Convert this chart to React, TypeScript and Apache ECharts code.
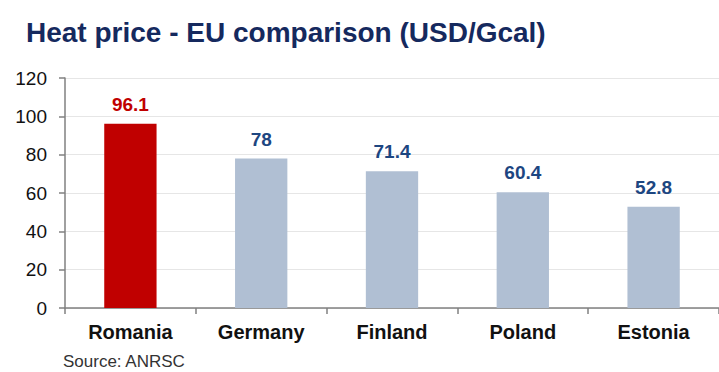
import React, { useEffect, useRef } from "react";
import * as echarts from "echarts";

const categories = ["Romania", "Germany", "Finland", "Poland", "Estonia"];
const values = [96.1, 78, 71.4, 60.4, 52.8];
const highlightIndex = 0;
const yTicks = { min: 0, max: 120, interval: 20 };

export default function App() {
  const ref = useRef<HTMLDivElement>(null);
  useEffect(() => {
    if (!ref.current) return;
    const chart = echarts.init(ref.current, null, { renderer: "svg" });
    const font = "Liberation Sans, Arial, sans-serif";
    chart.setOption({
      animation: false,
      backgroundColor: "#ffffff",
      title: {
        text: "Heat price - EU comparison (USD/Gcal)",
        left: 21,
        top: 13,
        textStyle: { fontFamily: font, fontSize: 28, fontWeight: "bold", color: "#15295e" },
      },
      graphic: [
        {
          type: "text",
          left: 63,
          top: 353,
          style: { text: "Source: ANRSC", font: `17px ${font}`, fill: "#333333" },
        },
      ],
      grid: { left: 65, right: -6, top: 78, bottom: 64, containLabel: false },
      xAxis: {
        type: "category",
        data: categories,
        axisLine: { show: true, lineStyle: { color: "#808080", width: 1.5 } },
        axisTick: { show: true, length: 6, alignWithLabel: false, lineStyle: { color: "#808080", width: 1.5 } },
        axisLabel: { fontFamily: font, fontSize: 20, fontWeight: "bold", color: "#111111", margin: 14 },
      },
      yAxis: {
        type: "value",
        min: yTicks.min,
        max: yTicks.max,
        interval: yTicks.interval,
        axisLine: { show: true, lineStyle: { color: "#808080", width: 1.5 } },
        axisTick: { show: true, length: 6, lineStyle: { color: "#808080", width: 1.5 } },
        axisLabel: { fontFamily: font, fontSize: 19, color: "#111111", margin: 18 },
        splitLine: { show: true, lineStyle: { color: "#e6e6e6", width: 1 } },
      },
      series: [
        {
          type: "bar",
          barWidth: "40%",
          data: values.map((v, i) => ({
            value: v,
            itemStyle: { color: i === highlightIndex ? "#c00000" : "#b0bfd3" },
            label: { color: i === highlightIndex ? "#c00000" : "#1d4681" },
          })),
          label: {
            show: true,
            position: "top",
            distance: 10,
            fontFamily: font,
            fontSize: 19,
            fontWeight: "bold",
          },
        },
      ],
    });
    return () => chart.dispose();
  }, []);
  return (
    <div
      ref={ref}
      style={{ position: "fixed", left: 0, top: 0, width: 719, height: 372 }}
    />
  );
}
